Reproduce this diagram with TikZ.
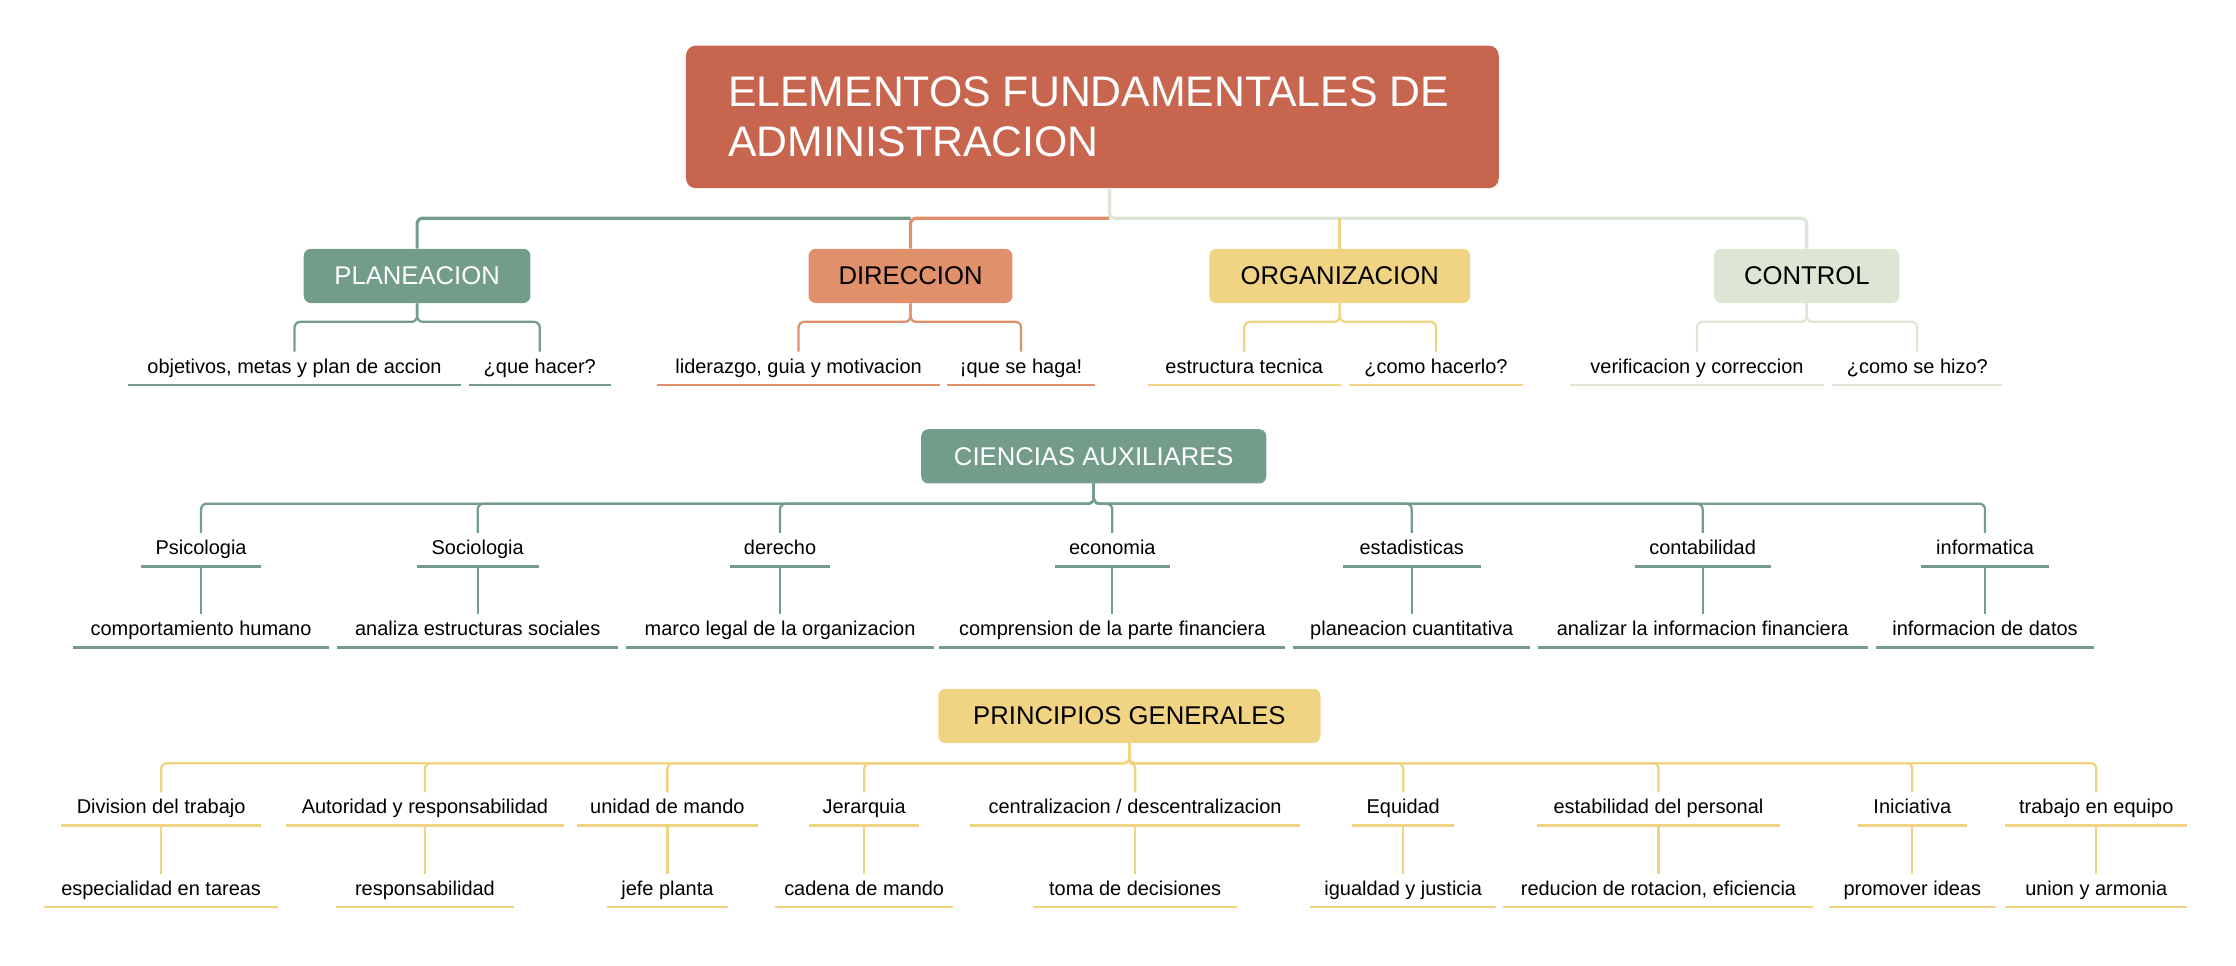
\documentclass[tikz,border=0pt]{standalone}
\usepackage{fontspec}
\setmainfont{Liberation Sans}
\usetikzlibrary{positioning}
\definecolor{cTitle}{HTML}{C8654E}
\definecolor{cGreen}{HTML}{739C8B}
\definecolor{cOrange}{HTML}{E0906A}
\definecolor{cYellow}{HTML}{F0D484}
\definecolor{cPale}{HTML}{DDE6D5}
\begin{document}
\begin{tikzpicture}[x=1pt, y=-1pt,
    topic/.style={rectangle, rounded corners=5, minimum height=38, text=white,
      font=\fontsize{18}{20}\selectfont},
    leaf/.style={anchor=south, inner ysep=5, inner xsep=0, text height=10, text depth=3,
      font=\fontsize{14}{16}\selectfont},
    link/.style={line width=2.2, rounded corners=4}]
  \useasboundingbox (0,0) rectangle (1568,677);

  % title
  \node[rectangle, rounded corners=7, fill=cTitle, minimum width=570, minimum height=100] (title) at (766,82) {};
  \node[anchor=west, align=left, text=white, font=\fontsize{30}{35}\selectfont] (titletext) at (507,82)
    {ELEMENTOS FUNDAMENTALES DE\\ADMINISTRACION};

  % main branches
  \node[topic, fill=cGreen, minimum width=159] (pla) at (292.5,193.5) {PLANEACION};
  \node[topic, fill=cOrange, text=black, minimum width=143] (dir) at (638.5,193.5) {DIRECCION};
  \node[topic, fill=cYellow, text=black, minimum width=183] (org) at (939.5,193.5) {ORGANIZACION};
  \node[topic, fill=cPale, text=black, minimum width=130] (ctl) at (1267,193.5) {CONTROL};
  \coordinate (hub) at (778,153);
  \draw[link, cPale] (ctl.north) |- (hub) -- (title.south -| hub);
  \draw[link, cYellow] (org.north) -- (org.north |- hub);
  \draw[link, cOrange] (dir.north) |- (hub);
  \draw[link, cGreen] (pla.north) |- (dir.north |- hub);

  % children of main branches
  \foreach \p/\c/\xa/\wa/\ta/\xb/\wb/\tb in {
      pla/cGreen/206.5/233/{objetivos, metas y plan de accion}/378.5/99/{¿que hacer?},
      dir/cOrange/560/198/{liderazgo, guia y motivacion}/716/104/{¡que se haga!},
      org/cYellow/872.5/135/{estructura tecnica}/1007/122/{¿como hacerlo?},
      ctl/cPale/1190/178/{verificacion y correccion}/1344.5/119/{¿como se hizo?}} {
    \node[leaf, minimum width=\wa] (\p a) at (\xa,270) {\ta};
    \node[leaf, minimum width=\wb] (\p b) at (\xb,270) {\tb};
    \draw[line width=2, \c] (\p a.south west) -- (\p a.south east);
    \draw[line width=2, \c] (\p b.south west) -- (\p b.south east);
    \draw[line width=1.6, \c, rounded corners=4] (\p.south) -- ++(0,13) -| (\p a.north);
    \draw[line width=1.6, \c, rounded corners=4] (\p.south) -- ++(0,13) -| (\p b.north);
  }

  % ciencias auxiliares
  \node[topic, fill=cGreen, minimum width=242] (cie) at (767,320) {CIENCIAS AUXILIARES};
  \foreach \i/\x/\wa/\ta/\wb/\tb in {
      1/141/84/Psicologia/179/{comportamiento humano},
      2/335/85/Sociologia/197/{analiza estructuras sociales},
      3/547/70/derecho/215/{marco legal de la organizacion},
      4/780/80/economia/242/{comprension de la parte financiera},
      5/990/96/estadisticas/166/{planeacion cuantitativa},
      6/1194/95/contabilidad/231/{analizar la informacion financiera},
      7/1392/89/informatica/153/{informacion de datos}} {
    \node[leaf, minimum width=\wa] (cie\i) at (\x,397) {\ta};
    \node[leaf, minimum width=\wb] (cied\i) at (\x,454) {\tb};
    \draw[line width=2, cGreen] (cie\i.south west) -- (cie\i.south east);
    \draw[line width=2, cGreen] (cied\i.south west) -- (cied\i.south east);
    \draw[line width=1.6, cGreen, rounded corners=4] (cie.south) -- ++(0,14) -| (cie\i.north);
    \draw[line width=1.6, cGreen] (cie\i.south) -- (cied\i.north);
  }

  % principios generales
  \node[topic, fill=cYellow, text=black, minimum width=268] (pri) at (792,502) {PRINCIPIOS GENERALES};
  \foreach \i/\x/\wa/\ta/\wb/\tb in {
      1/113/140/{Division del trabajo}/164/{especialidad en tareas},
      2/298/194/{Autoridad y responsabilidad}/124/responsabilidad,
      3/468/127/{unidad de mando}/84/{jefe planta},
      4/606/77/Jerarquia/124/{cadena de mando},
      5/796/231/{centralizacion / descentralizacion}/143/{toma de decisiones},
      6/984/71/Equidad/130/{igualdad y justicia},
      7/1163/170/{estabilidad del personal}/217/{reducion de rotacion, eficiencia},
      8/1341/76/Iniciativa/117/{promover ideas},
      9/1470/127/{trabajo en equipo}/127/{union y armonia}} {
    \node[leaf, minimum width=\wa] (pri\i) at (\x,579) {\ta};
    \node[leaf, minimum width=\wb] (prid\i) at (\x,636) {\tb};
    \draw[line width=2, cYellow] (pri\i.south west) -- (pri\i.south east);
    \draw[line width=2, cYellow] (prid\i.south west) -- (prid\i.south east);
    \draw[line width=1.6, cYellow, rounded corners=4] (pri.south) -- ++(0,14) -| (pri\i.north);
    \draw[line width=1.6, cYellow] (pri\i.south) -- (prid\i.north);
  }
\end{tikzpicture}
\end{document}
